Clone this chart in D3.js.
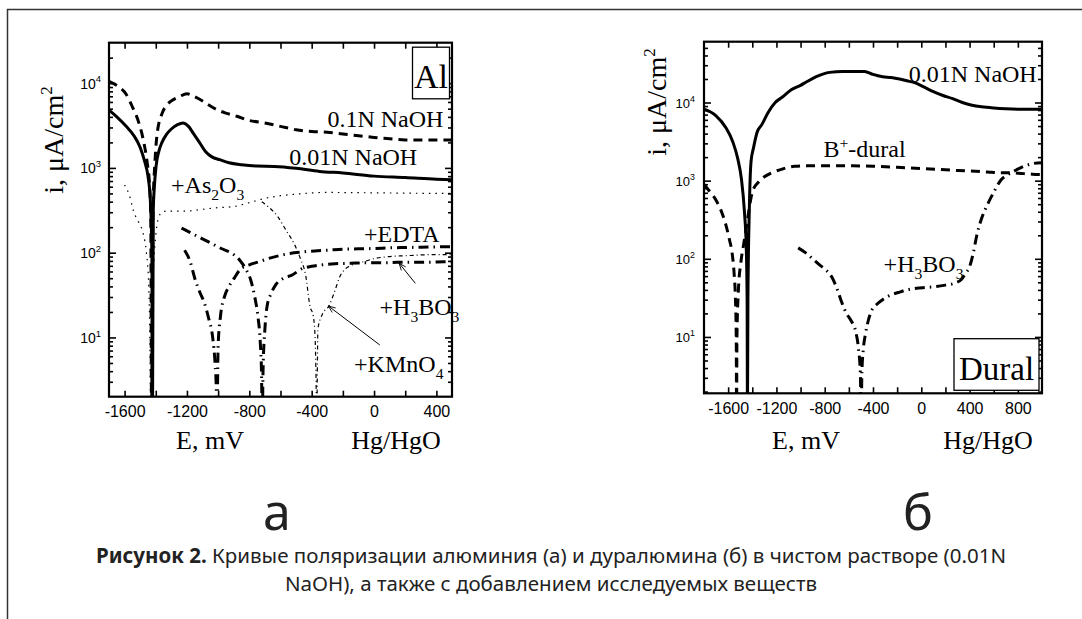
<!DOCTYPE html>
<html>
<head>
<meta charset="utf-8">
<script src="https://cdn.jsdelivr.net/npm/d3@7/dist/d3.min.js"></script>
<style>
  body { margin: 0; background: #fff; }
  svg { display: block; }
</style>
</head>
<body>
<script>
// ---------- data: Al panel (E in mV vs Hg/HgO, i in uA/cm2) ----------
const alNaoh001E = [-1700, -1650, -1590, -1540, -1500, -1470, -1450, -1435, -1425, -1421, -1416, -1410, -1398, -1380, -1360, -1330, -1300, -1260, -1225, -1190, -1160, -1120, -1080, -1040, -990, -930, -850, -750, -640, -500, -350, -200, 0, 200, 400, 500];
const alNaoh001I = [4800, 4000, 3100, 2400, 1740, 1170, 800, 420, 100, 1, 316, 560, 1050, 1580, 2000, 2500, 2880, 3240, 3390, 3090, 2570, 2000, 1550, 1350, 1250, 1150, 1090, 1050, 1040, 990, 910, 870, 800, 770, 735, 725];

const alNaoh01E = [-1700, -1640, -1590, -1550, -1510, -1480, -1455, -1440, -1432, -1427, -1418, -1405, -1390, -1360, -1330, -1300, -1250, -1200, -1150, -1100, -1050, -1000, -950, -880, -800, -700, -600, -500, -400, -300, -200, -100, 0, 100, 200, 300, 400, 500];
const alNaoh01I = [10500, 9100, 7400, 5250, 3470, 2140, 1150, 630, 250, 1, 300, 1200, 2630, 4370, 5500, 6170, 6900, 7500, 6900, 6170, 5370, 4790, 4430, 4070, 3630, 3390, 3090, 2820, 2690, 2630, 2510, 2400, 2290, 2210, 2140, 2140, 2140, 2140];

const alAsE = [-1600, -1570, -1540, -1510, -1480, -1460, -1445, -1438, -1432, -1420, -1400, -1380, -1360, -1330, -1280, -1200, -1100, -1000, -900, -800, -700, -600, -500, -400, -300, -200, -100, 0, 100, 200, 300, 400, 500];
const alAsI = [630, 480, 300, 230, 166, 100, 40, 10, 1, 32, 160, 263, 300, 310, 310, 310, 325, 340, 350, 390, 437, 470, 490, 507, 515, 512, 510, 508, 506, 504, 502, 500, 500];

const alKmnE = [-720, -680, -620, -560, -514, -470, -440, -410, -390, -378, -372, -368, -360, -330, -290, -250, -220, -190, -160, -120, -60, 0, 100, 200, 300, 400, 500];
const alKmnI = [400, 350, 270, 178, 129, 83, 56, 23, 18, 10, 3.2, 1, 12.6, 19, 23.4, 36, 52, 63, 69, 74, 79, 85, 90, 92, 94, 95, 95];

const alEdtaE = [-1215, -1180, -1150, -1120, -1090, -1060, -1035, -1020, -1012, -1008, -1000, -985, -960, -930, -900, -860, -800, -740, -680, -620, -540, -460, -380, -300, -200, -100, 0, 100, 200, 300, 400, 500];
const alEdtaI = [107, 79, 50, 35, 26, 16.6, 10, 5, 2.5, 1, 8, 17.8, 30, 40, 49, 63, 72, 78, 85, 91, 98, 102, 105, 107, 110, 111, 112, 114, 115, 116, 117, 118];

const alBoricE = [-1235, -1150, -1065, -980, -900, -860, -820, -790, -765, -745, -730, -722, -717, -712, -700, -685, -660, -630, -580, -530, -460, -400, -330, -250, -150, -50, 50, 150, 250, 350, 450, 500];
const alBoricI = [195, 162, 135, 112, 95, 81, 63, 47, 30, 17.8, 8.9, 4, 1, 4, 12.6, 24, 33, 42, 50, 54, 65, 69, 72, 74, 75, 76, 76, 77, 77, 77, 78, 78];

// ---------- data: Dural panel ----------
const duNaohE = [-1800, -1700, -1620, -1560, -1520, -1490, -1465, -1450, -1443, -1440, -1436, -1425, -1410, -1390, -1360, -1320, -1270, -1210, -1150, -1080, -1000, -950, -870, -760, -650, -550, -470, -400, -320, -250, -180, -120, -50, 20, 100, 180, 260, 340, 420, 500, 600, 700, 800, 900, 1000];
const duNaohI = [8200, 6760, 4790, 3100, 1900, 1050, 400, 140, 32, 1, 32, 400, 1780, 2630, 4170, 5250, 7400, 10000, 11750, 14450, 16600, 18400, 21400, 24300, 25000, 25000, 25000, 22900, 21400, 20900, 20000, 18970, 17800, 15850, 13800, 12300, 11200, 10000, 9230, 8810, 8510, 8320, 8220, 8200, 8200];

const duBplusE = [-1800, -1750, -1700, -1660, -1620, -1590, -1565, -1550, -1540, -1533, -1530, -1527, -1515, -1495, -1470, -1440, -1400, -1350, -1300, -1240, -1150, -1050, -950, -800, -600, -400, -200, 0, 150, 300, 450, 550, 650, 720, 780, 850, 920, 1000];
const duBplusI = [890, 720, 560, 420, 275, 178, 112, 63, 32, 10, 1, 10, 40, 89, 158, 316, 708, 955, 1120, 1260, 1410, 1530, 1550, 1550, 1550, 1530, 1480, 1430, 1390, 1350, 1320, 1290, 1260, 1260, 1250, 1230, 1210, 1200];

const duBoricE = [-1020, -960, -900, -840, -790, -740, -700, -660, -620, -580, -545, -520, -505, -498, -492, -480, -462, -440, -410, -370, -320, -260, -190, -120, -40, 40, 120, 200, 280, 330, 370, 400, 430, 460, 500, 550, 600, 660, 720, 790, 860, 930, 1000];
const duBoricI = [138, 120, 100, 83, 72, 58, 42, 28, 20, 16, 12, 7, 3.5, 1, 3.5, 7, 11, 16, 22, 26, 30, 34, 37, 40, 42, 43, 44, 46, 49, 54, 66, 79, 117, 200, 330, 500, 710, 1020, 1200, 1380, 1550, 1660, 1700];

// tick values
const alXTicks = [-1600, -1400, -1200, -1000, -800, -600, -400, -200, 0, 200, 400];
const duXTicks = [-1600, -1400, -1200, -1000, -800, -600, -400, -200, 0, 200, 400, 600, 800];
const yMajor = [10, 100, 1000, 10000];

// ---------- setup ----------
const W = 1082, H = 619;
const serif = "'Liberation Serif', 'Times New Roman', serif";
const sans = "'Liberation Sans', Arial, sans-serif";
const capFont = "'Noto Sans', 'Open Sans', sans-serif";

const svg = d3.select('body').append('svg')
    .attr('width', W)
    .attr('height', H)
    .attr('viewBox', `0 0 ${W} ${H}`);
svg.append('rect').attr('width', W).attr('height', H).attr('fill', '#fff');

// outer page frame (left and top edges)
svg.append('path')
    .attr('d', `M7.5,${H} V9.5 H${W}`)
    .attr('fill', 'none')
    .attr('stroke', '#333')
    .attr('stroke-width', 1.5);

const styles = {
    solid: {w: 3, dash: null},
    dash: {w: 3, dash: '9,6'},
    dotted: {w: 1.2, dash: '1.5,5'},
    thinDashDot: {w: 1.2, dash: '4,3,1,3'},
    dashDot: {w: 3, dash: '10,5,1.5,5'}
};

const zip = (es, is) => es.map((e, k) => [e, is[k]]);

// text with sub/superscripts: parts = [[text, 'sub'|'sup'|undefined], ...]
function richText(g, px, py, parts, size) {
    const t = g.append('text')
        .attr('x', px).attr('y', py)
        .attr('font-family', serif).attr('font-size', size);
    let shift = 0;
    parts.forEach(([s, kind]) => {
        const target = kind === 'sub' ? 7 : kind === 'sup' ? -9 : 0;
        const ts = t.append('tspan').attr('dy', target - shift).text(s);
        if (kind) ts.attr('font-size', size * 0.65);
        shift = target;
    });
}

function drawPanel(cfg) {
    const x = d3.scaleLinear().domain(cfg.xDomain).range([cfg.left, cfg.right]);
    const y = d3.scaleLog().domain(cfg.yDomain).range([cfg.bottom, cfg.top]);
    const g = svg.append('g');

    // clip for curves
    const clipId = `clip-${cfg.id}`;
    svg.append('clipPath').attr('id', clipId)
        .append('rect')
        .attr('x', cfg.left).attr('y', cfg.top)
        .attr('width', cfg.right - cfg.left).attr('height', cfg.bottom - cfg.top);

    const line = d3.line()
        .x(d => x(d[0]))
        .y(d => y(Math.max(d[1], 0.05)))
        .curve(d3.curveMonotoneX);

    const curves = g.append('g').attr('clip-path', `url(#${clipId})`);
    cfg.series.forEach(s => {
        const st = styles[s.style];
        curves.append('path')
            .datum(zip(s.E, s.I))
            .attr('d', line)
            .attr('fill', 'none')
            .attr('stroke', '#000')
            .attr('stroke-width', st.w)
            .attr('stroke-dasharray', st.dash)
            .attr('stroke-linejoin', 'round');
    });

    // minor y ticks
    const minor = [];
    const lo = Math.floor(Math.log10(cfg.yDomain[0]));
    const hi = Math.ceil(Math.log10(cfg.yDomain[1]));
    for (let p = lo; p <= hi; p++) {
        for (let m = 2; m <= 9; m++) {
            const v = m * Math.pow(10, p);
            if (v > cfg.yDomain[0] && v < cfg.yDomain[1]) minor.push(v);
        }
    }

    const styleAxis = (sel) => {
        sel.select('.domain').remove();
        sel.selectAll('line').attr('stroke', '#000').attr('stroke-width', 1.6);
    };

    // bottom axis with labels
    g.append('g')
        .attr('transform', `translate(0,${cfg.bottom})`)
        .call(d3.axisBottom(x).tickValues(cfg.xTicks).tickSizeInner(-6).tickSizeOuter(0)
            .tickPadding(9)
            .tickFormat(d => (d % 400 === 0 ? String(d) : '')))
        .call(styleAxis)
        .selectAll('text')
        .attr('font-family', sans)
        .attr('font-size', 16)
        .attr('fill', '#000');
    // top mirror
    g.append('g')
        .attr('transform', `translate(0,${cfg.top})`)
        .call(d3.axisTop(x).tickValues(cfg.xTicks).tickSizeInner(-6).tickSizeOuter(0).tickFormat(''))
        .call(styleAxis);

    // left major + minor
    const leftAxis = g.append('g')
        .attr('transform', `translate(${cfg.left},0)`)
        .call(d3.axisLeft(y).tickValues(yMajor).tickSizeInner(-7).tickSizeOuter(0)
            .tickPadding(cfg.yPad).tickFormat(''))
        .call(styleAxis);
    leftAxis.selectAll('.tick text').each(function (d) {
        const t = d3.select(this)
            .attr('font-family', sans)
            .attr('font-size', cfg.yFont)
            .attr('fill', '#000')
            .attr('dy', '0.35em');
        t.append('tspan').text('10');
        t.append('tspan').attr('dy', -cfg.yFont * 0.45).attr('font-size', cfg.yFont * 0.68)
            .text(Math.round(Math.log10(d)));
    });
    g.append('g')
        .attr('transform', `translate(${cfg.left},0)`)
        .call(d3.axisLeft(y).tickValues(minor).tickSizeInner(-4).tickSizeOuter(0).tickFormat(''))
        .call(styleAxis);
    // right mirror
    g.append('g')
        .attr('transform', `translate(${cfg.right},0)`)
        .call(d3.axisRight(y).tickValues(yMajor).tickSizeInner(-7).tickSizeOuter(0).tickFormat(''))
        .call(styleAxis);
    g.append('g')
        .attr('transform', `translate(${cfg.right},0)`)
        .call(d3.axisRight(y).tickValues(minor).tickSizeInner(-4).tickSizeOuter(0).tickFormat(''))
        .call(styleAxis);

    // frame
    g.append('rect')
        .attr('x', cfg.left).attr('y', cfg.top)
        .attr('width', cfg.right - cfg.left).attr('height', cfg.bottom - cfg.top)
        .attr('fill', 'none').attr('stroke', '#000').attr('stroke-width', 2.2);

    // curve labels (anchored in data units)
    cfg.labels.forEach(l => richText(g, x(l.E), y(l.I), l.parts, 24));

    // arrows
    (cfg.arrows || []).forEach(a => {
        g.append('line')
            .attr('x1', x(a.from[0])).attr('y1', y(a.from[1]))
            .attr('x2', x(a.to[0])).attr('y2', y(a.to[1]))
            .attr('stroke', '#000').attr('stroke-width', 1)
            .attr('marker-end', 'url(#arrowHead)');
    });

    // boxed panel name
    const b = cfg.box;
    const bx = cfg.right - b.inset - b.w;
    const by = b.corner === 'top' ? cfg.top + b.inset + 2 : cfg.bottom - b.inset - b.h;
    g.append('rect')
        .attr('x', bx).attr('y', by).attr('width', b.w).attr('height', b.h)
        .attr('fill', '#fff').attr('stroke', '#000').attr('stroke-width', 1.3);
    g.append('text')
        .attr('x', bx + b.w / 2).attr('y', by + b.h * 0.8)
        .attr('text-anchor', 'middle')
        .attr('font-family', serif).attr('font-size', b.size)
        .text(b.text);

    // axis titles
    const yt = g.append('text')
        .attr('transform', `translate(${cfg.yTitle[0]},${cfg.yTitle[1]}) rotate(-90)`)
        .attr('text-anchor', 'middle')
        .attr('font-family', serif).attr('font-size', 28);
    yt.append('tspan').text('i, μA/cm');
    yt.append('tspan').attr('dy', -11).attr('font-size', 17).text('2');

    g.append('text')
        .attr('x', cfg.xTitle[0]).attr('y', cfg.titleY)
        .attr('text-anchor', 'middle')
        .attr('font-family', serif).attr('font-size', 26)
        .text('E, mV');
    g.append('text')
        .attr('x', cfg.xTitle[1]).attr('y', cfg.titleY)
        .attr('text-anchor', 'middle')
        .attr('font-family', serif).attr('font-size', 26)
        .text('Hg/HgO');
}

// arrow marker
svg.append('defs').append('marker')
    .attr('id', 'arrowHead')
    .attr('viewBox', '0 0 10 10')
    .attr('refX', 10).attr('refY', 5)
    .attr('markerUnits', 'userSpaceOnUse')
    .attr('markerWidth', 9).attr('markerHeight', 7)
    .attr('orient', 'auto')
    .append('path')
    .attr('d', 'M0,1 L10,5 L0,9')
    .attr('fill', 'none')
    .attr('stroke', '#000')
    .attr('stroke-width', 1.2);

drawPanel({
    id: 'al',
    left: 109, right: 452, top: 42.7, bottom: 396.7,
    xDomain: [-1700, 500], yDomain: [2, 3e4],
    xTicks: alXTicks, yPad: 8, yFont: 14,
    series: [
        {E: alNaoh01E, I: alNaoh01I, style: 'dash'},
        {E: alNaoh001E, I: alNaoh001I, style: 'solid'},
        {E: alAsE, I: alAsI, style: 'dotted'},
        {E: alKmnE, I: alKmnI, style: 'thinDashDot'},
        {E: alEdtaE, I: alEdtaI, style: 'dashDot'},
        {E: alBoricE, I: alBoricI, style: 'dashDot'}
    ],
    labels: [
        {E: -299, I: 3040, parts: [['0.1N NaOH']]},
        {E: -544, I: 1080, parts: [['0.01N NaOH']]},
        {E: -1302, I: 500, parts: [['+As'], ['2', 'sub'], ['O'], ['3', 'sub']]},
        {E: -64, I: 135, parts: [['+EDTA']]},
        {E: 35, I: 18.4, parts: [['+H'], ['3', 'sub'], ['BO'], ['3', 'sub']]},
        {E: -128, I: 3.9, parts: [['+KMnO'], ['4', 'sub']]}
    ],
    arrows: [
        {from: [265, 43.5], to: [161, 75]},
        {from: [37, 8.15], to: [-293, 23.5]}
    ],
    box: {text: 'Al', corner: 'top', inset: 2.5, w: 37, h: 51.6, size: 34},
    yTitle: [63, 140],
    xTitle: [210, 396],
    titleY: 449
});

drawPanel({
    id: 'dural',
    left: 704, right: 1042, top: 41.7, bottom: 393.3,
    xDomain: [-1800, 1000], yDomain: [1.9, 6e4],
    xTicks: duXTicks, yPad: 9, yFont: 13,
    series: [
        {E: duNaohE, I: duNaohI, style: 'solid'},
        {E: duBplusE, I: duBplusI, style: 'dash'},
        {E: duBoricE, I: duBoricI, style: 'dashDot'}
    ],
    labels: [
        {E: -104, I: 18450, parts: [['0.01N NaOH']]},
        {E: -810, I: 1990, parts: [['B'], ['+', 'sup'], ['-dural']]},
        {E: -312, I: 68.4, parts: [['+H'], ['3', 'sub'], ['BO'], ['3', 'sub']]}
    ],
    box: {text: 'Dural', corner: 'bottom', inset: 3, w: 85, h: 51.6, size: 33},
    yTitle: [666, 102],
    xTitle: [806, 988],
    titleY: 449
});

// panel letters
svg.append('text')
    .attr('x', 277).attr('y', 530)
    .attr('text-anchor', 'middle')
    .attr('font-family', capFont).attr('font-size', 50).attr('fill', '#222')
    .text('а');
svg.append('text')
    .attr('x', 918).attr('y', 530)
    .attr('text-anchor', 'middle')
    .attr('font-family', capFont).attr('font-size', 50).attr('fill', '#222')
    .text('б');

// caption
const cap1 = svg.append('text')
    .attr('x', 551).attr('y', 563)
    .attr('text-anchor', 'middle')
    .attr('font-family', capFont).attr('font-size', 20.5).attr('fill', '#222');
cap1.append('tspan').attr('font-weight', 'bold').text('Рисунок 2.');
cap1.append('tspan').text(' Кривые поляризации алюминия (а) и дуралюмина (б) в чистом растворе (0.01N');
svg.append('text')
    .attr('x', 551).attr('y', 591)
    .attr('text-anchor', 'middle')
    .attr('font-family', capFont).attr('font-size', 20.5).attr('fill', '#222')
    .text('NaOH), а также с добавлением исследуемых веществ');
</script>
</body>
</html>
